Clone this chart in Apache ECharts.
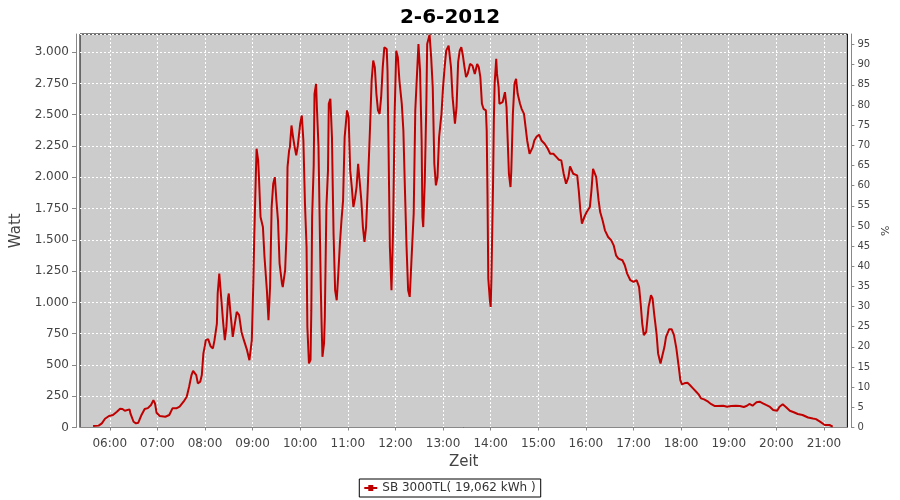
<!DOCTYPE html>
<html><head><meta charset="utf-8">
<script src="https://cdn.jsdelivr.net/npm/echarts@6/dist/echarts.min.js"></script>
<style>html,body{margin:0;padding:0;background:#fff}#c{width:900px;height:500px}</style>
</head><body><div id="c"></div>
<script>
const titleText = '2-6-2012';
const seriesName = 'SB 3000TL( 19,062 kWh )';
const xAxisName = 'Zeit';
const yAxisName = 'Watt';
const y2AxisName = '%';
const xTickLabels = ['06:00','07:00','08:00','09:00','10:00','11:00','12:00','13:00','14:00','15:00','16:00','17:00','18:00','19:00','20:00','21:00'];
const xRange = ['05:22.5', '21:29.5'];
const wattMax = 3145;
const wattStep = 250;
const pctMax = 97.6;
const pctStep = 5;

const times = [
'05:39','05:46','05:50','05:54','05:59','06:04','06:09','06:13','06:16','06:19','06:25','06:26','06:30','06:33','06:36','06:40','06:44','06:48','06:52','06:55','06:57','06:59',
'07:03','07:10','07:15','07:19','07:24','07:28','07:33','07:37','07:40','07:43','07:45','07:49','07:51','07:54','07:56','07:58',
'08:00','08:01','08:04','08:07','08:10','08:12','08:15','08:16','08:18','08:20','08:21','08:23','08:25','08:27','08:29','08:30','08:32','08:35','08:37','08:40','08:43','08:46','08:49','08:53','08:56','08:57','08:59',
'09:01','09:02','09:04','09:05','09:07','09:08','09:10','09:13','09:15','09:18','09:20','09:22','09:24','09:26','09:28','09:30','09:32','09:34','09:37','09:38','09:41','09:43','09:44','09:46','09:47','09:49','09:51','09:53','09:55','09:57',
'10:00','10:02','10:04','10:06','10:08','10:09','10:11','10:13','10:14','10:15','10:17','10:18','10:20','10:21','10:23','10:25','10:26','10:27','10:28','10:30','10:31','10:33','10:35','10:36','10:38','10:40','10:41','10:42','10:44','10:46','10:48','10:50','10:52','10:54','10:56','10:59',
'11:01','11:03','11:05','11:07','11:09','11:11','11:13','11:15','11:17','11:19','11:21','11:23','11:25','11:28','11:30','11:32','11:34','11:36','11:38','11:40','11:42','11:44','11:46','11:49','11:50','11:51','11:53','11:55','11:57','11:59',
'12:01','12:03','12:05','12:08','12:10','12:12','12:14','12:16','12:18','12:20','12:23','12:25','12:27','12:29','12:31','12:33','12:34','12:35','12:37','12:39','12:40','12:43','12:45','12:47','12:49','12:51','12:53','12:55','12:58',
'13:00','13:02','13:04','13:07','13:10','13:12','13:15','13:17','13:19','13:21','13:23','13:25','13:27','13:29','13:31','13:34','13:37','13:40','13:43','13:45','13:47','13:49','13:51','13:54','13:55','13:56','13:57','13:59',
'14:00','14:01','14:03','14:04','14:05','14:07','14:08','14:10','14:11','14:13','14:15','14:18','14:20','14:21','14:23','14:25','14:26','14:28','14:30','14:32','14:34','14:37','14:39','14:42','14:44','14:46','14:49','14:51','14:53','14:55','14:58',
'15:01','15:04','15:08','15:12','15:15','15:19','15:23','15:26','15:29','15:32','15:35','15:38','15:40','15:44','15:49','15:51','15:53','15:55','15:58',
'16:01','16:05','16:07','16:09','16:11','16:13','16:16','16:18','16:21','16:24','16:28','16:32','16:35','16:38','16:41','16:46','16:49','16:52','16:56',
'17:00','17:04','17:07','17:09','17:11','17:13','17:16','17:19','17:22','17:24','17:26','17:29','17:31','17:34','17:36','17:39','17:41','17:45','17:48','17:51','17:54','17:57','17:59',
'18:01','18:04','18:08','18:11','18:15','18:19','18:22','18:25','18:29','18:34','18:38','18:42','18:46','18:53','18:58',
'19:03','19:09','19:14','19:19','19:23','19:26','19:30','19:35','19:39','19:43','19:47','19:52','19:56',
'20:01','20:04','20:08','20:12','20:17','20:22','20:27','20:33','20:40','20:46','20:50','20:55',
'21:01','21:07','21:11'
];
const watts = [
12,15,33,70,92,100,126,150,148,134,145,113,46,33,38,100,148,155,180,219,193,118,
92,86,100,153,153,166,206,246,326,419,453,419,353,366,419,592,
658,698,706,650,632,698,831,1071,1230,1230,991,831,698,804,1031,1071,924,724,804,924,898,764,698,618,538,538,698,
1177,1496,2001,2228,2135,2001,1682,1602,1363,1097,858,1123,1762,1949,2001,1815,1656,1310,1151,1123,1257,1576,2081,2214,2241,2414,2321,2241,2175,2254,
2428,2494,2294,1789,1443,804,512,540,938,1682,2095,2667,2747,2560,2254,1470,1097,818,565,672,884,1762,2055,2587,2627,2321,1922,1550,1097,1017,1230,1470,1656,1815,2321,2534,
2480,2055,1922,1762,1829,1922,2108,2108,1815,1602,1483,1602,1895,2400,2773,2933,2880,2667,2534,2507,2640,2880,3039,3025,2853,2374,1443,1097,1576,2507,
3012,2960,2773,2587,2374,1895,1443,1097,1044,1310,1709,2534,2800,3065,2853,2294,1682,1602,1975,2614,3065,3140,2960,2720,2108,1935,2002,2321,2507,
2720,2880,3012,3052,2880,2640,2428,2560,2920,3012,3039,2973,2880,2800,2826,2906,2893,2826,2906,2880,2800,2587,2547,2534,2374,1869,1190,1017,
964,1204,1949,2454,2747,2946,2826,2720,2587,2573,2600,2680,2560,2374,2028,1922,2055,2507,2747,2786,2667,2587,2547,2507,2400,2294,2188,2188,2241,2294,2326,
2340,2294,2268,2228,2188,2188,2161,2140,2135,2028,1949,2001,2087,2028,2015,1895,1736,1629,1682,
1722,1762,1895,2068,2068,2001,1815,1722,1656,1576,1523,1496,1456,1376,1350,1337,1297,1230,1177,
1164,1177,1124,991,831,738,764,964,1057,1031,911,751,592,512,512,645,724,786,786,738,632,485,379,
345,353,358,340,313,286,265,233,225,206,186,172,172,174,166,
172,174,172,164,174,188,174,201,206,193,180,164,140,
134,166,186,164,134,122,108,100,80,72,67,47,
20,20,7
];

function toMin(s) { const p = s.split(':'); return (+p[0]) * 60 + parseFloat(p[1]); }
function fmtTime(m) { const h = Math.floor(m / 60), mm = Math.round(m - h * 60); return String(h).padStart(2,'0') + ':' + String(mm).padStart(2,'0'); }
function fmtWatt(v) { v = Math.round(v); if (v >= 1000) return Math.floor(v/1000) + '.' + String(v % 1000).padStart(3,'0'); return String(v); }

const points = times.map((t, i) => [toMin(t), watts[i]]);
const tickMinutes = xTickLabels.map(toMin);
const FONT = "'DejaVu Sans', sans-serif";
const AXC = '#888888';
const TXT = '#444444';
const RED = '#c00000';

const chart = echarts.init(document.getElementById('c'), null, { renderer: 'canvas' });
chart.setOption({
  animation: false,
  backgroundColor: '#ffffff',
  title: { text: titleText, left: 'center', top: 3, textStyle: { fontFamily: FONT, fontWeight: 'bold', fontSize: 20, color: '#000' } },
  legend: {
    bottom: 3, left: 'center', borderColor: '#000', borderWidth: 1, borderRadius: 0, padding: [3, 5],
    itemWidth: 13, itemHeight: 6, itemGap: 4,
    textStyle: { fontFamily: FONT, fontSize: 12, color: '#333' },
    data: [{ name: seriesName, icon: 'path://M0,2 L4,2 L4,0 L9,0 L9,2 L13,2 L13,4 L9,4 L9,6 L4,6 L4,4 L0,4 Z', itemStyle: { color: RED } }]
  },
  grid: { left: 80, top: 34, width: 768, height: 393.5, show: true, backgroundColor: '#cccccc', borderColor: '#000', borderWidth: 1 },
  xAxis: {
    type: 'value', min: toMin(xRange[0]), max: toMin(xRange[1]), offset: 4,
    name: xAxisName, nameLocation: 'middle', nameGap: 22,
    nameTextStyle: { fontFamily: FONT, fontSize: 15, color: TXT },
    axisLine: { show: true, lineStyle: { color: AXC, width: 1 } },
    axisTick: { show: true, length: 3, inside: false, customValues: tickMinutes, lineStyle: { color: AXC } },
    axisLabel: { customValues: tickMinutes, formatter: v => fmtTime(v), margin: 6, fontFamily: FONT, fontSize: 12, color: TXT },
    splitLine: { show: true, lineStyle: { color: '#ffffff', width: 1, type: [2, 2] } }
  },
  yAxis: [
    {
      type: 'value', min: 0, max: wattMax, interval: wattStep, offset: 4, position: 'left',
      name: yAxisName, nameLocation: 'middle', nameGap: 46, nameRotate: 90,
      nameTextStyle: { fontFamily: FONT, fontSize: 15, color: TXT },
      axisLine: { show: true, lineStyle: { color: AXC } },
      axisTick: { show: true, length: 4, lineStyle: { color: AXC } },
      axisLabel: { formatter: v => fmtWatt(v), showMaxLabel: false, margin: 7, fontFamily: FONT, fontSize: 12, color: TXT },
      splitLine: { show: true, lineStyle: { color: '#ffffff', width: 1, type: [2, 2] } }
    },
    {
      type: 'value', min: 0, max: pctMax, interval: pctStep, offset: 4, position: 'right',
      name: y2AxisName, nameLocation: 'middle', nameGap: 26, nameRotate: 90,
      nameTextStyle: { fontFamily: FONT, fontSize: 11, color: TXT },
      axisLine: { show: true, lineStyle: { color: AXC } },
      axisTick: { show: true, length: 3, lineStyle: { color: AXC } },
      axisLabel: { showMaxLabel: false, margin: 6, fontFamily: FONT, fontSize: 10, color: TXT },
      splitLine: { show: false }
    }
  ],
  series: [{
    type: 'line', name: seriesName, data: points, yAxisIndex: 0,
    showSymbol: false, symbol: 'none', smooth: false,
    lineStyle: { color: RED, width: 2 }, itemStyle: { color: RED }
  }]
});
</script>
</body></html>
